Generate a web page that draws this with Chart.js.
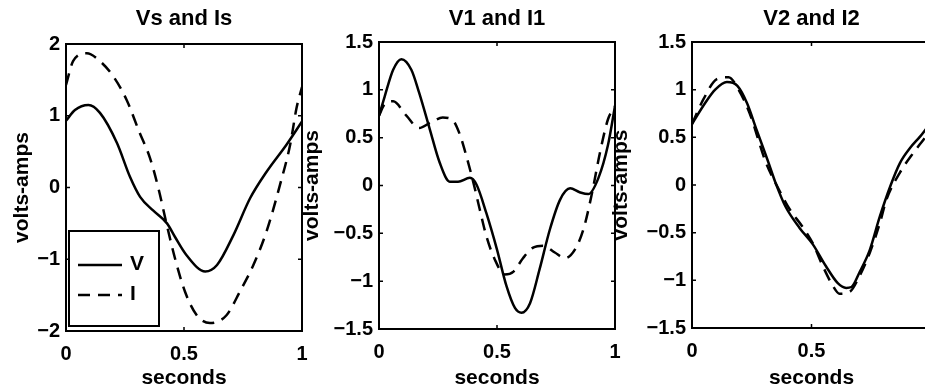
<!DOCTYPE html>
<html lang="en">
<head>
<meta charset="UTF-8">
<title>Vs and Is / V1 and I1 / V2 and I2</title>
<script src="https://cdn.jsdelivr.net/npm/chart.js"></script>
<style>
  html, body { margin: 0; padding: 0; background: #fff; width: 925px; height: 392px; overflow: hidden; }
  canvas { position: absolute; top: 0; }
</style>
</head>
<body>
<canvas id="c1" width="320" height="392" style="left:0px"></canvas>
<canvas id="c2" width="340" height="392" style="left:290px"></canvas>
<canvas id="c3" width="361" height="392" style="left:599px"></canvas>
<script>
// Vs and Is
const tVs = [0, 0.038, 0.095, 0.144, 0.216, 0.271, 0.314, 0.369, 0.428, 0.462, 0.51, 0.59, 0.64, 0.71, 0.78, 0.85, 0.935, 1];
const vs  = [0.93, 1.08, 1.15, 1.04, 0.62, 0.15, -0.13, -0.32, -0.50, -0.69, -0.94, -1.17, -1.08, -0.66, -0.15, 0.22, 0.60, 0.92];
const tIs = [0, 0.03, 0.088, 0.144, 0.2, 0.257, 0.31, 0.356, 0.393, 0.427, 0.462, 0.504, 0.554, 0.61, 0.68, 0.737, 0.794, 0.85, 0.907, 0.95, 0.977, 1];
const is  = [1.43, 1.76, 1.87, 1.76, 1.55, 1.22, 0.78, 0.41, -0.03, -0.52, -0.99, -1.45, -1.78, -1.89, -1.78, -1.45, -1.08, -0.61, 0.04, 0.60, 1.11, 1.40];

// V1 and I1
const tV1 = [0, 0.024, 0.06, 0.095, 0.137, 0.17, 0.215, 0.257, 0.30, 0.335, 0.385, 0.413, 0.455, 0.50, 0.54, 0.576, 0.604, 0.64, 0.68, 0.724, 0.767, 0.81, 0.85, 0.887, 0.93, 0.97, 1];
const v1  = [0.73, 0.93, 1.21, 1.32, 1.21, 0.97, 0.59, 0.24, 0.04, 0.04, 0.08, 0.01, -0.29, -0.67, -1.05, -1.28, -1.33, -1.23, -0.88, -0.46, -0.15, -0.03, -0.07, -0.09, 0.08, 0.42, 0.83];
const tI1 = [0, 0.024, 0.06, 0.116, 0.17, 0.22, 0.27, 0.31, 0.34, 0.37, 0.40, 0.427, 0.455, 0.49, 0.533, 0.57, 0.61, 0.653, 0.696, 0.745, 0.788, 0.83, 0.866, 0.90, 0.936, 0.97, 1];
const i1  = [0.73, 0.85, 0.88, 0.73, 0.60, 0.66, 0.71, 0.69, 0.55, 0.31, 0.03, -0.25, -0.53, -0.77, -0.93, -0.90, -0.76, -0.65, -0.63, -0.70, -0.76, -0.67, -0.46, -0.11, 0.34, 0.69, 0.83];

// V2 and I2
const tV2 = [0, 0.055, 0.097, 0.146, 0.19, 0.23, 0.27, 0.315, 0.35, 0.39, 0.45, 0.505, 0.56, 0.61, 0.645, 0.667, 0.70, 0.744, 0.786, 0.83, 0.87, 0.913, 0.955, 0.983, 1];
const v2  = [0.64, 0.86, 1.00, 1.08, 1.04, 0.86, 0.58, 0.27, 0.02, -0.22, -0.45, -0.62, -0.85, -1.03, -1.08, -1.07, -0.92, -0.68, -0.33, -0.01, 0.23, 0.39, 0.51, 0.60, 0.65];
const tI2 = [0, 0.048, 0.104, 0.153, 0.195, 0.24, 0.31, 0.364, 0.41, 0.46, 0.505, 0.547, 0.59, 0.617, 0.66, 0.70, 0.744, 0.786, 0.814, 0.87, 0.927, 0.97, 1];
const i2  = [0.64, 0.90, 1.11, 1.13, 1.00, 0.76, 0.23, -0.05, -0.26, -0.43, -0.61, -0.85, -1.06, -1.14, -1.12, -0.96, -0.71, -0.40, -0.15, 0.13, 0.34, 0.48, 0.58];

Chart.defaults.font.family = "'Liberation Sans', Arial, Helvetica, sans-serif";
Chart.defaults.font.weight = 'bold';
Chart.defaults.color = '#000';

function pts(t, v) {
  return t.map((x, k) => ({ x: x, y: v[k] }));
}

function tickText(val) {
  return String(val).replace('-', '\u2212');
}

// box round the plot area with small inward tick marks, like matlab
const framePlugin = {
  id: 'frame',
  afterDatasetsDraw(chart) {
    const { ctx, chartArea: a, scales: { x, y } } = chart;
    ctx.save();
    ctx.strokeStyle = '#000';
    ctx.lineWidth = 1.5;
    ctx.beginPath();
    x.ticks.forEach(t => {
      const px = x.getPixelForValue(t.value);
      ctx.moveTo(px, a.bottom); ctx.lineTo(px, a.bottom - 4);
      ctx.moveTo(px, a.top); ctx.lineTo(px, a.top + 4);
    });
    y.ticks.forEach(t => {
      const py = y.getPixelForValue(t.value);
      ctx.moveTo(a.left, py); ctx.lineTo(a.left + 4, py);
      ctx.moveTo(a.right, py); ctx.lineTo(a.right - 4, py);
    });
    ctx.stroke();
    ctx.lineWidth = 2;
    ctx.strokeRect(a.left, a.top, a.right - a.left, a.bottom - a.top);
    ctx.restore();
  }
};

// legend drawn inside the lower left corner of the first plot
const boxLegend = {
  id: 'boxLegend',
  afterDatasetsDraw(chart, args, opts) {
    if (!opts.show) return;
    const { ctx, chartArea: a } = chart;
    const x0 = a.left + 3, y0 = a.bottom - 100, w = 90, h = 95;
    ctx.save();
    ctx.fillStyle = '#fff';
    ctx.fillRect(x0, y0, w, h);
    ctx.strokeStyle = '#000';
    ctx.lineWidth = 2;
    ctx.strokeRect(x0, y0, w, h);
    chart.data.datasets.forEach((ds, k) => {
      const ly = y0 + 34 + k * 30;
      ctx.setLineDash(ds.borderDash || []);
      ctx.lineWidth = ds.borderWidth;
      ctx.beginPath();
      ctx.moveTo(x0 + 9, ly);
      ctx.lineTo(x0 + 53, ly);
      ctx.stroke();
      ctx.setLineDash([]);
      ctx.fillStyle = '#000';
      ctx.font = "bold 21px 'Liberation Sans', Arial, sans-serif";
      ctx.textAlign = 'left';
      ctx.textBaseline = 'middle';
      ctx.fillText(ds.label, x0 + 61, ly - 1);
    });
    ctx.restore();
  }
};

function makeChart(id, title, yMin, yMax, yStep, tv, v, ti, i, area, legend) {
  const canvas = document.getElementById(id);
  const cx = parseInt(canvas.style.left, 10);
  const H = canvas.height;
  return new Chart(canvas, {
    type: 'line',
    data: {
      datasets: [{
        label: 'V',
        data: pts(tv, v),
        borderColor: '#000',
        borderWidth: 2.5,
        pointRadius: 0,
        cubicInterpolationMode: 'monotone',
        fill: false
      }, {
        label: 'I',
        data: pts(ti, i),
        borderColor: '#000',
        borderWidth: 2.5,
        borderDash: [12, 8],
        pointRadius: 0,
        cubicInterpolationMode: 'monotone',
        fill: false
      }]
    },
    options: {
      responsive: false,
      animation: false,
      layout: { padding: { left: 0, top: 0, bottom: 0, right: canvas.width - (area.right - cx) } },
      plugins: {
        legend: { display: false },
        tooltip: { enabled: false },
        title: {
          display: true,
          text: title,
          fullSize: false,
          font: { size: 22, weight: 'bold' },
          padding: { top: 6, bottom: area.top - 6 - 22 * 1.2 }
        },
        boxLegend: { show: legend }
      },
      scales: {
        x: {
          type: 'linear',
          min: 0,
          max: 1,
          grid: { display: false, drawTicks: false },
          border: { display: false },
          ticks: { stepSize: 0.5, padding: 11, font: { size: 20 }, callback: tickText },
          title: { display: true, text: 'seconds', font: { size: 21 }, padding: { top: 0, bottom: 1.4 } },
          afterFit: s => {
            s.height = H - area.bottom;
            s.paddingLeft = 0;
            s.paddingRight = 0;
          }
        },
        y: {
          min: yMin,
          max: yMax,
          grid: { display: false, drawTicks: false },
          border: { display: false },
          ticks: { stepSize: yStep, padding: 6, font: { size: 20 }, callback: tickText },
          title: { display: true, text: 'volts-amps', font: { size: 21 }, padding: { top: 9.4, bottom: 0 } },
          afterFit: s => {
            s.width = area.left - cx;
            s.paddingTop = 0;
            s.paddingBottom = 0;
          }
        }
      }
    },
    plugins: [framePlugin, boxLegend]
  });
}

makeChart('c1', 'Vs and Is', -2, 2, 1, tVs, vs, tIs, is, { left: 66, top: 44, right: 302, bottom: 331 }, true);
makeChart('c2', 'V1 and I1', -1.5, 1.5, 0.5, tV1, v1, tI1, i1, { left: 379, top: 42, right: 615, bottom: 329 }, false);
makeChart('c3', 'V2 and I2', -1.5, 1.5, 0.5, tV2, v2, tI2, i2, { left: 692, top: 42, right: 931, bottom: 328 }, false);
</script>
</body>
</html>
